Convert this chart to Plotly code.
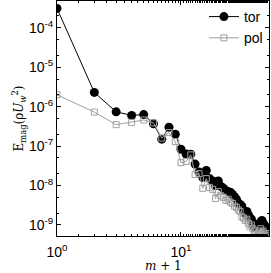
import plotly.graph_objects as go

m_plus_1 = list(range(1, 52))
tor = [3.1e-4, 2.3e-6, 7.4e-7, 6.0e-7, 6.3e-7, 3.7e-7, 1.5e-7, 3.0e-7, 2.0e-7, 8.3e-8,
       6.3e-8, 6.2e-8, 3.5e-8, 2.2e-8, 1.6e-8, 2.4e-8, 1.5e-8, 1.3e-8, 1.0e-8, 1.3e-8,
       9.5e-9, 8.5e-9, 7.5e-9, 7.0e-9, 6.8e-9, 6.0e-9, 5.2e-9, 4.5e-9, 3.6e-9, 3.3e-9,
       3.0e-9, 2.3e-9, 2.0e-9, 2.2e-9, 1.8e-9, 1.5e-9, 1.4e-9, 1.1e-9, 9.0e-10, 8.5e-10,
       9.5e-10, 1.0e-9, 1.1e-9, 1.2e-9, 1.3e-9, 1.1e-9, 1.0e-9, 9.0e-10, 7.5e-10, 6.5e-10, 7.0e-10]
pol = [2.0e-6, 7.3e-7, 3.5e-7, 4.0e-7, 4.6e-7, 3.9e-7, 1.6e-7, 2.2e-7, 1.3e-7, 3.8e-8,
       4.1e-8, 6.0e-8, 1.9e-8, 2.0e-8, 8.5e-9, 1.5e-8, 9.0e-9, 8.0e-9, 4.7e-9, 7.0e-9,
       5.5e-9, 5.0e-9, 4.2e-9, 4.5e-9, 3.8e-9, 3.5e-9, 3.0e-9, 2.8e-9, 2.4e-9, 2.2e-9,
       1.6e-9, 1.5e-9, 1.3e-9, 1.4e-9, 1.1e-9, 9.0e-10, 1.0e-9, 8.0e-10, 7.0e-10, 6.0e-10,
       5.0e-10, 6.0e-10, 7.0e-10, 8.0e-10, 6.5e-10, 7.0e-10, 5.5e-10, 5.0e-10, 6.0e-10, 5.5e-10, 6.0e-10]

y_tickvals = [1e-9, 1e-8, 1e-7, 1e-6, 1e-5, 1e-4]
y_ticktext = ["10<sup>-9</sup>", "10<sup>-8</sup>", "10<sup>-7</sup>", "10<sup>-6</sup>",
              "10<sup>-5</sup>", "10<sup>-4</sup>"]
x_tickvals = [1, 10]
x_ticktext = ["10<sup>0</sup>", "10<sup>1</sup>"]

fig = go.Figure()
fig.add_trace(go.Scatter(
    x=m_plus_1, y=tor, name="tor", mode="lines+markers",
    line=dict(color="black", width=1),
    marker=dict(symbol="circle", size=9, color="black"),
))
fig.add_trace(go.Scatter(
    x=m_plus_1, y=pol, name="pol", mode="lines+markers",
    line=dict(color="#a0a0a0", width=1),
    marker=dict(symbol="square-open", size=6, color="#a0a0a0", line=dict(width=1)),
))

axis_common = dict(
    showline=True, linecolor="black", linewidth=1, mirror="ticks",
    ticks="inside", ticklen=4, tickcolor="black", showgrid=False, zeroline=False,
    tickfont=dict(family="Liberation Sans, Arial", size=14, color="black"),
)

fig.update_xaxes(
    type="log", range=[0, 1.71], tickvals=x_tickvals, ticktext=x_ticktext,
    minor=dict(ticks="inside", ticklen=2, tickcolor="black", showgrid=False),
    ticklabelstandoff=3,
    **axis_common,
)
fig.update_yaxes(
    type="log", range=[-9.28, -3.32], tickvals=y_tickvals, ticktext=y_ticktext,
    minor=dict(ticks="inside", ticklen=2, tickcolor="black", showgrid=False),
    title=dict(text="E<sub>mag</sub>(ρ<i>U</i><sub><i>w</i></sub><sup>2</sup>)",
               font=dict(family="DejaVu Serif, serif", size=12, color="black"), standoff=2),
    **axis_common,
)

fig.add_annotation(
    text="<i>m</i> + 1", xref="paper", yref="paper", x=0.5, y=0, yshift=-30,
    xanchor="center", yanchor="middle", showarrow=False,
    font=dict(family="DejaVu Serif, serif", size=12, color="black"),
)

fig.update_layout(
    width=271, height=273,
    margin=dict(l=57, r=2, t=1, b=37),
    paper_bgcolor="white", plot_bgcolor="white",
    showlegend=True,
    legend=dict(x=0.995, y=1.0, xanchor="right", yanchor="top",
                bgcolor="rgba(255,255,255,0)", borderwidth=0,
                font=dict(family="Liberation Sans, Arial", size=14, color="black"),
                tracegroupgap=0),
)

fig.write_html("out.html", config={"displayModeBar": False},
               post_script="document.body.style.margin='0';")
